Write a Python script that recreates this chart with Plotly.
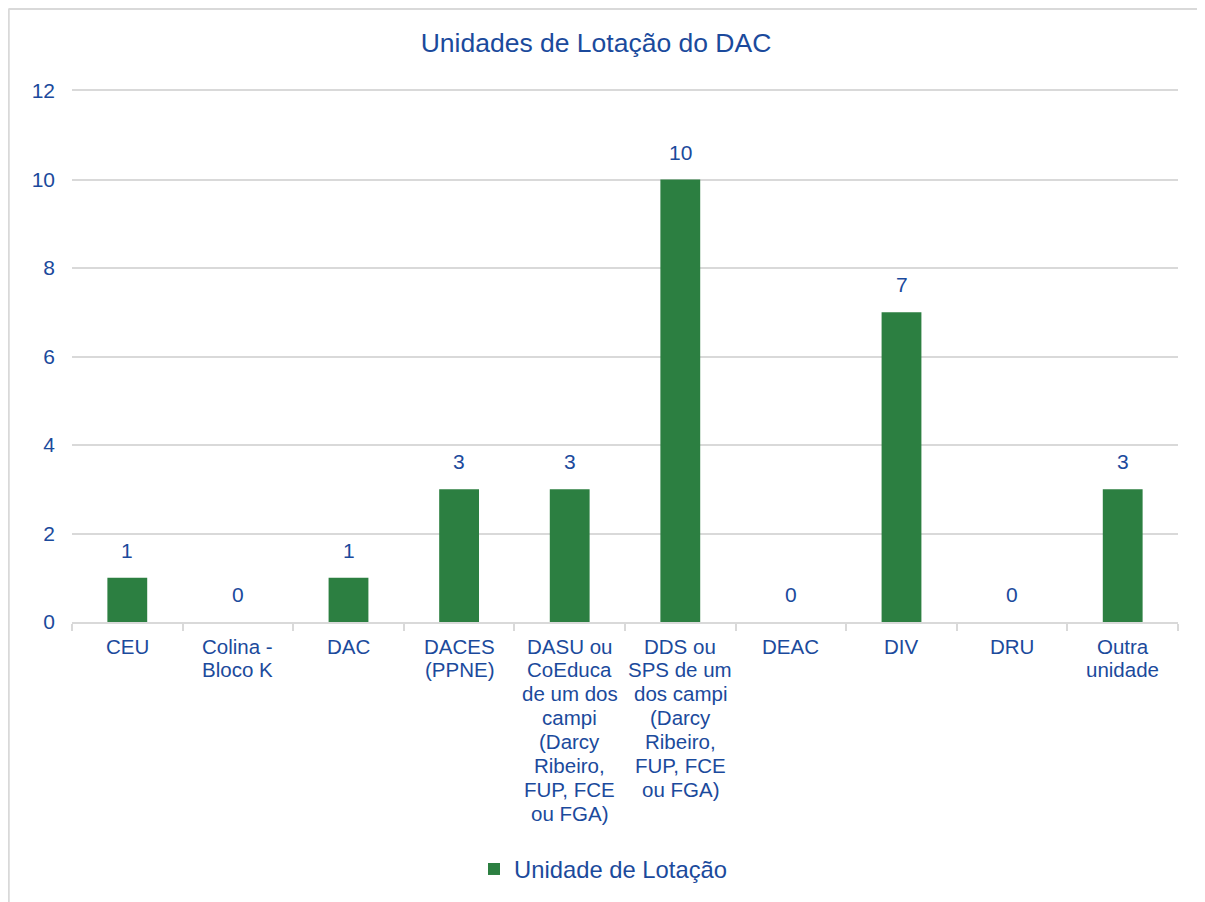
import plotly.graph_objects as go

categories = ["CEU", "Colina - Bloco K", "DAC", "DACES (PPNE)",
              "DASU ou CoEduca de um dos campi (Darcy Ribeiro, FUP, FCE ou FGA)",
              "DDS ou SPS de um dos campi (Darcy Ribeiro, FUP, FCE ou FGA)",
              "DEAC", "DIV", "DRU", "Outra unidade"]
label_lines = [
    ["CEU"],
    ["Colina -", "Bloco K"],
    ["DAC"],
    ["DACES", "(PPNE)"],
    ["DASU ou", "CoEduca", "de um dos", "campi", "(Darcy", "Ribeiro,", "FUP, FCE", "ou FGA)"],
    ["DDS ou", "SPS de um", "dos campi", "(Darcy", "Ribeiro,", "FUP, FCE", "ou FGA)"],
    ["DEAC"],
    ["DIV"],
    ["DRU"],
    ["Outra", "unidade"],
]
values = [1, 0, 1, 3, 3, 10, 0, 7, 0, 3]
series_name = "Unidade de Lotação"
title_text = "Unidades de Lotação do DAC"
y_ticks = [0, 2, 4, 6, 8, 10, 12]

TEXT = "#1B4A9C"
BAR = "#2C7F41"
GRID = "#D9D9D9"
FONT = "Liberation Sans, Arial, sans-serif"

# figure sized to fit the page after its 8px body offset
W, H = 1197, 894
L, R, T, B = 64, 1170, 83, 615
PW, PH = R - L, B - T

fig = go.Figure()
fig.add_trace(go.Bar(x=categories, y=values, name=series_name,
                     marker=dict(color=BAR, line=dict(width=0)),
                     showlegend=True))

annotations = []
for cat, v in zip(categories, values):
    annotations.append(dict(x=cat, y=v, xref="x", yref="y", text=str(v),
                            showarrow=False, yanchor="bottom", yshift=14,
                            font=dict(size=21, color=TEXT, family=FONT)))
for cat, lines in zip(categories, label_lines):
    for i, ln in enumerate(lines):
        annotations.append(dict(x=cat, y=0, xref="x", yref="y", text=ln,
                                showarrow=False, yanchor="middle",
                                yshift=-(24 + 23.9 * i),
                                font=dict(size=20.5, color=TEXT, family=FONT)))

frame_x0, frame_y1 = (0.5 - L) / PW, (B - 0.5) / PH
frame_x1, frame_y0 = (W + 50 - L) / PW, (B - H - 50) / PH
border = dict(color="#D9D9D9", width=2.5)

fig.update_layout(
    width=W, height=H,
    margin=dict(l=L, r=W - R, t=T, b=H - B),
    paper_bgcolor="white", plot_bgcolor="white",
    font=dict(family=FONT, color=TEXT, size=21),
    title=dict(text=title_text, x=588 / W, xanchor="center",
               y=1 - 35 / H, yanchor="middle",
               font=dict(size=26.5, color=TEXT, family=FONT)),
    bargap=0.64,
    showlegend=True,
    legend=dict(orientation="h", x=(466 - L) / PW, xanchor="left",
                y=(B - 861) / PH, yanchor="middle",
                font=dict(size=23.8, color=TEXT, family=FONT),
                itemwidth=30, bgcolor="rgba(0,0,0,0)"),
    xaxis=dict(showticklabels=False, showline=True, linecolor=GRID, linewidth=2,
               mirror=True,
               ticks="outside", tickson="boundaries", ticklen=7,
               tickcolor=GRID, tickwidth=2, showgrid=False, zeroline=False,
               fixedrange=True),
    yaxis=dict(range=[0, 12], tickvals=y_ticks, showgrid=True, gridcolor=GRID,
               gridwidth=1.5, zeroline=False, showline=False,
               ticklabelstandoff=16, tickfont=dict(size=21, color=TEXT, family=FONT)),
    annotations=annotations,
    shapes=[
        dict(type="line", xref="paper", yref="paper", x0=frame_x0, x1=frame_x1,
             y0=frame_y1, y1=frame_y1, line=border, layer="below"),
        dict(type="line", xref="paper", yref="paper", x0=frame_x0, x1=frame_x0,
             y0=frame_y0, y1=frame_y1, line=border, layer="below"),
    ],
)

fig.write_html("out.html")
